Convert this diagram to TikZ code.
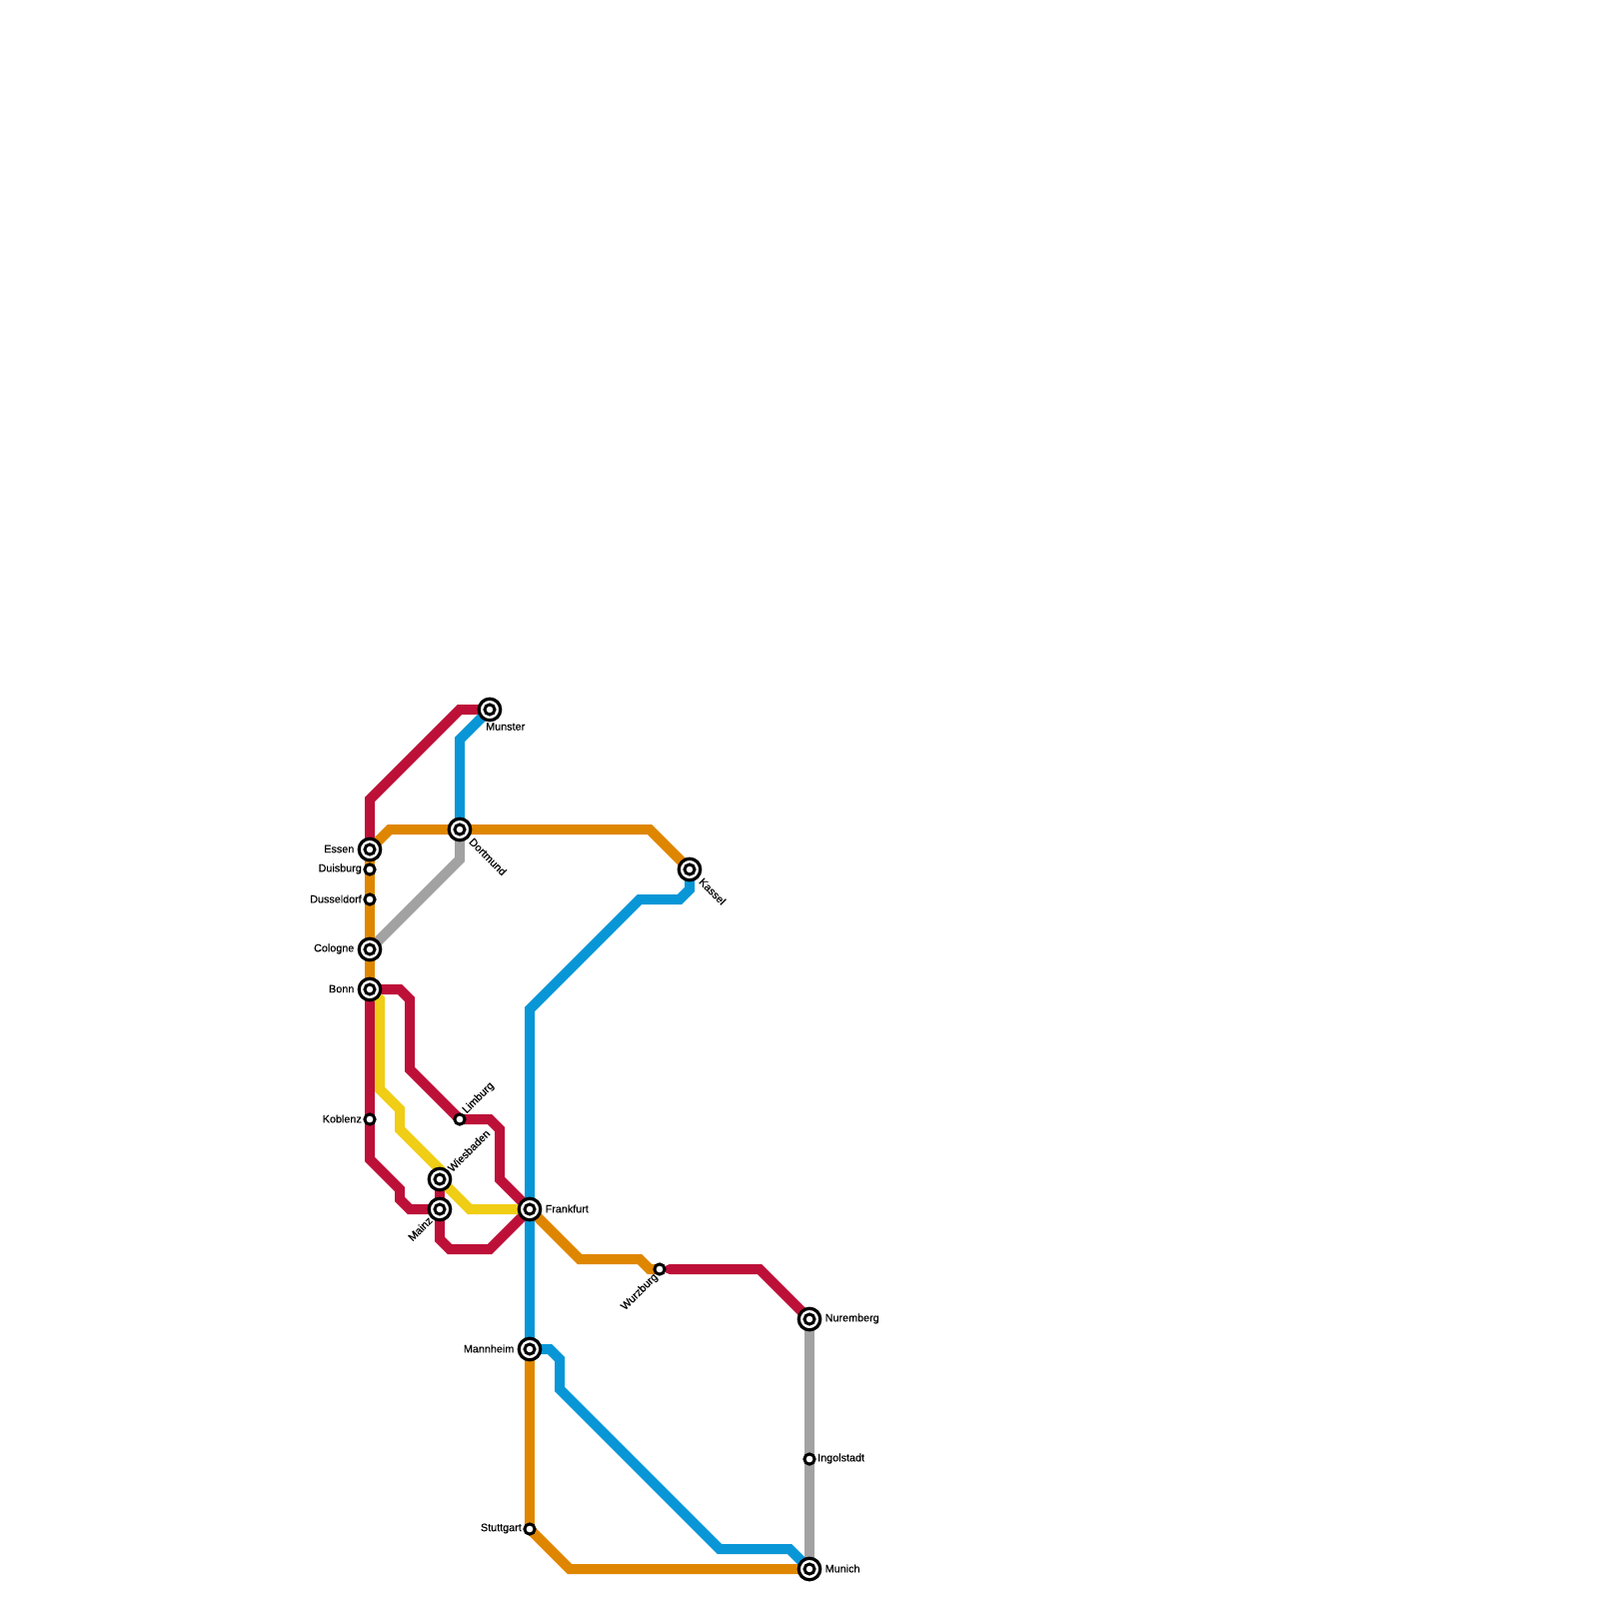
\documentclass[tikz,border=0pt]{standalone}
\usepackage{fontspec}
\setmainfont{Liberation Sans}[FakeBold=0.3]
\usetikzlibrary{backgrounds}

\definecolor{linered}{HTML}{BD1038}
\definecolor{lineorange}{HTML}{DF8600}
\definecolor{lineblue}{HTML}{0896D7}
\definecolor{lineyellow}{HTML}{F0CE15}
\definecolor{linegray}{HTML}{A2A2A2}

\begin{document}
\begin{tikzpicture}[
  x=0.1mm, y=-0.1mm,
  track/.style = {
    line width=1mm
  },
  redtrack/.style = {track, linered},
  orangetrack/.style = {track, lineorange},
  bluetrack/.style = {track, lineblue},
  yellowtrack/.style = {track, lineyellow},
  graytrack/.style = {track, linegray},
  hub/.style = {
    circle,
    draw=black,
    fill=white,
    line width=0.32mm,
    minimum size=2.15mm,
    inner sep=0pt,
    path picture={
      \draw[black, line width=0.3mm] (path picture bounding box.center) circle (0.5mm);
    }
  },
  halt/.style = {
    circle,
    draw=black,
    fill=white,
    line width=0.3mm,
    minimum size=1.02mm,
    inner sep=0pt
  },
  stationname/.style = {
    font=\fontsize{3.07pt}{3.5pt}\selectfont,
    inner sep=0pt,
    text=black
  }
]

\path[use as bounding box] (0,0) rectangle (1600,1600);

% stations
\node[hub] (munster) at (490,710) {};
\node[hub] (dortmund) at (460,830) {};
\node[hub] (kassel) at (690,870) {};
\node[hub] (essen) at (370,850) {};
\node[halt] (duisburg) at (370,870) {};
\node[halt] (dusseldorf) at (370,900) {};
\node[hub] (cologne) at (370,950) {};
\node[hub] (bonn) at (370,990) {};
\node[halt] (koblenz) at (370,1120) {};
\node[halt] (limburg) at (460,1120) {};
\node[hub] (wiesbaden) at (440,1180) {};
\node[hub] (mainz) at (440,1210) {};
\node[hub] (frankfurt) at (530,1210) {};
\node[halt] (wurzburg) at (660,1270) {};
\node[hub] (nuremberg) at (810,1320) {};
\node[hub] (mannheim) at (530,1350) {};
\node[halt] (ingolstadt) at (810,1460) {};
\node[halt] (stuttgart) at (530,1530) {};
\node[hub] (munich) at (810,1570) {};

% station names
\node[stationname, anchor=west] (munstername) at (485.5,727) {Munster};
\node[stationname, anchor=west, rotate=-45] (dortmundname) at (471,840) {Dortmund};
\node[stationname, anchor=west, rotate=-45] (kasselname) at (701,880) {Kassel};
\node[stationname, anchor=east] (essenname) at (355,849.5) {Essen};
\node[stationname, anchor=east] (duisburgname) at (362.5,869.5) {Duisburg};
\node[stationname, anchor=east] (dusseldorfname) at (362.5,899.5) {Dusseldorf};
\node[stationname, anchor=east] (colognename) at (355,949.5) {Cologne};
\node[stationname, anchor=east] (bonnname) at (355,989.5) {Bonn};
\node[stationname, anchor=east] (koblenzname) at (362.5,1119.5) {Koblenz};
\node[stationname, anchor=west, rotate=45] (limburgname) at (464.5,1113) {Limburg};
\node[stationname, anchor=west, rotate=45] (wiesbadenname) at (449.5,1171) {Wiesbaden};
\node[stationname, anchor=east, rotate=45] (mainzname) at (431,1219) {Mainz};
\node[stationname, anchor=west] (frankfurtname) at (545,1209.5) {Frankfurt};
\node[stationname, anchor=east, rotate=45] (wurzburgname) at (657,1276) {Wurzburg};
\node[stationname, anchor=west] (nurembergname) at (825,1319.5) {Nuremberg};
\node[stationname, anchor=east] (mannheimname) at (515,1349.5) {Mannheim};
\node[stationname, anchor=west] (ingolstadtname) at (817.5,1459.5) {Ingolstadt};
\node[stationname, anchor=east] (stuttgartname) at (522.5,1529.5) {Stuttgart};
\node[stationname, anchor=west] (munichname) at (825,1569.5) {Munich};

\begin{scope}[on background layer]
  % red lines
  \draw[redtrack] (munster.center) -- (460,710) -- (370,800) -- (essen.center);
  \draw[redtrack] (bonn.center) -- (400,990) -- (410,1000) -- (410,1070) -- (limburg.center);
  \draw[redtrack] (limburg.center) -- (490,1120) -- (500,1130) -- (500,1180) -- (frankfurt.center);
  \draw[redtrack] (bonn.center) -- (koblenz.center);
  \draw[redtrack] (koblenz.center) -- (370,1160) -- (400,1190) -- (400,1200) -- (410,1210) -- (mainz.center);
  \draw[redtrack] (wiesbaden.center) -- (mainz.center);
  \draw[redtrack] (mainz.center) -- (440,1240) -- (450,1250) -- (490,1250) -- (frankfurt.center);
  \draw[redtrack, line cap=round] (670,1270) -- (760,1270) -- (nuremberg.center);
  % yellow line
  \draw[yellowtrack] (bonn.center) -- (380,1000) -- (380,1090) -- (400,1110) -- (400,1130) -- (440,1170) -- (wiesbaden.center);
  \draw[yellowtrack] (wiesbaden.center) -- (470,1210) -- (frankfurt.center);
  % gray lines
  \draw[graytrack] (dortmund.center) -- (460,860) -- (cologne.center);
  \draw[graytrack] (nuremberg.center) -- (ingolstadt.center);
  \draw[graytrack] (ingolstadt.center) -- (munich.center);
  % orange lines
  \draw[orangetrack] (bonn.center) -- (cologne.center);
  \draw[orangetrack] (cologne.center) -- (dusseldorf.center);
  \draw[orangetrack] (dusseldorf.center) -- (duisburg.center);
  \draw[orangetrack] (duisburg.center) -- (essen.center);
  \draw[orangetrack] (essen.center) -- (390,830) -- (dortmund.center);
  \draw[orangetrack] (dortmund.center) -- (650,830) -- (kassel.center);
  \draw[orangetrack] (frankfurt.center) -- (580,1260) -- (640,1260) -- (650,1270) -- (wurzburg.center);
  \draw[orangetrack] (mannheim.center) -- (stuttgart.center);
  \draw[orangetrack] (stuttgart.center) -- (570,1570) -- (munich.center);
  % blue lines
  \draw[bluetrack] (munster.center) -- (460,740) -- (dortmund.center);
  \draw[bluetrack] (kassel.center) -- (690,890) -- (680,900) -- (640,900) -- (530,1010) -- (frankfurt.center);
  \draw[bluetrack] (frankfurt.center) -- (mannheim.center);
  \draw[bluetrack] (mannheim.center) -- (550,1350) -- (560,1360) -- (560,1390) -- (720,1550) -- (790,1550) -- (munich.center);
\end{scope}

\end{tikzpicture}
\end{document}
